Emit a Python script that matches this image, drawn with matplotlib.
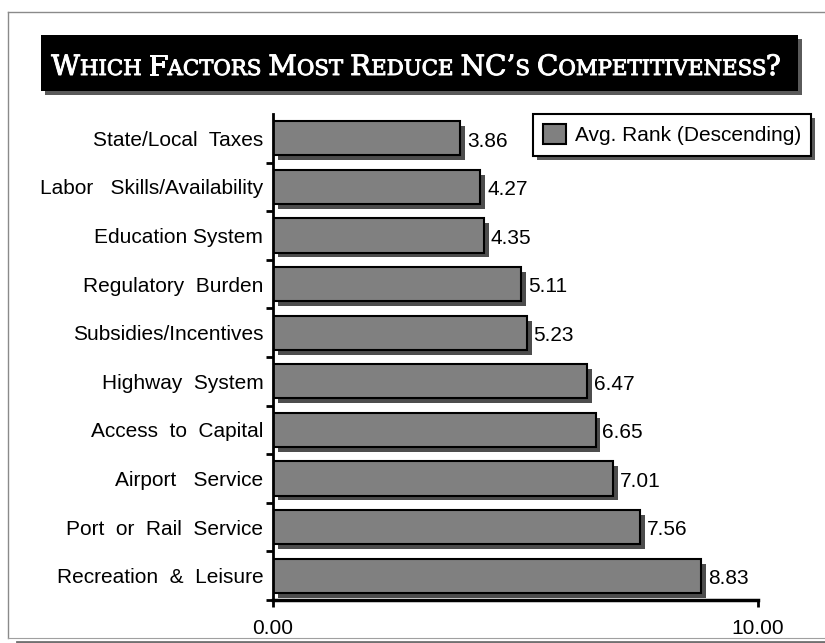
import matplotlib
matplotlib.use("Agg")
import matplotlib.pyplot as plt
import numpy as np
from matplotlib.patches import Rectangle, Patch
from matplotlib.lines import Line2D
from matplotlib.patheffects import SimplePatchShadow, Normal, withStroke
from matplotlib.ticker import FixedLocator

# ---- data ----
factors = [
    "State/Local  Taxes",
    "Labor   Skills/Availability",
    "Education System",
    "Regulatory  Burden",
    "Subsidies/Incentives",
    "Highway  System",
    "Access  to  Capital",
    "Airport   Service",
    "Port  or  Rail  Service",
    "Recreation  &  Leisure",
]
avg_rank = [3.86, 4.27, 4.35, 5.11, 5.23, 6.47, 6.65, 7.01, 7.56, 8.83]
x_ticks = [0, 10]
x_tick_labels = ["0.00", "10.00"]
series_name = "Avg. Rank (Descending)"
title = "Which Factors Most Reduce NC\u2019s Competitiveness?"

W, H = 825, 643
fig = plt.figure(figsize=(W / 100, H / 100), dpi=100)
fig.patch.set_facecolor("white")

def fx(px):
    return px / W

def fy(py):
    return 1 - py / H

SANS = "Liberation Sans"
SERIF = "DejaVu Serif"
FS = 15
BAR_GRAY = "#808080"
SHADOW = "#4d4d4d"

# ---- outer frame ----
frame_gray = "#8a8a8a"
fig.add_artist(Line2D([fx(8), fx(8)], [fy(12), fy(638)], color=frame_gray, lw=1.0, transform=fig.transFigure))
fig.add_artist(Line2D([fx(8), 1.0], [fy(12), fy(12)], color=frame_gray, lw=1.0, transform=fig.transFigure))
fig.add_artist(Line2D([fx(8), 1.0], [fy(638), fy(638)], color="#a0a0a0", lw=0.8, transform=fig.transFigure))
fig.add_artist(Line2D([fx(17), 1.0], [fy(641.5), fy(641.5)], color="#707070", lw=2.0, transform=fig.transFigure))

# ---- title banner ----
banner = Rectangle((fx(41), fy(91)), fx(798) - fx(41), fy(35) - fy(91),
                   transform=fig.transFigure, facecolor="black", edgecolor="none",
                   path_effects=[SimplePatchShadow(offset=(3, -3), shadow_rgbFace="#5a5a5a", alpha=1.0), Normal()])
fig.add_artist(banner)

def draw_small_caps(text, cx_px, base_px, big, small, family, target_width=None, **kw):
    """Draw text in small capitals: lowercase letters become smaller uppercase."""
    renderer = fig.canvas.get_renderer()
    words = text.split(" ")
    runs = []  # [string, is_small, ends_word]
    for w in words:
        cur, cur_small = "", None
        for ch in w:
            is_small = ch.islower()
            if cur_small is None or is_small == cur_small:
                cur += ch.upper() if is_small else ch
                cur_small = is_small
            else:
                runs.append([cur, cur_small, False])
                cur = ch.upper() if is_small else ch
                cur_small = is_small
        runs.append([cur, cur_small, True])

    def layout(scale):
        arts, wids = [], []
        for s, sm, _ in runs:
            t = fig.text(0, fy(base_px), s, fontsize=(small if sm else big) * scale,
                         family=family, color="white", ha="left", va="baseline", **kw)
            arts.append(t)
            wids.append(t.get_window_extent(renderer).width)
        gap = big * scale * 100 / 72 * 0.25
        return arts, wids, gap, sum(wids) + gap * (len(words) - 1)

    arts, wids, gap, total = layout(1.0)
    if target_width:
        for a in arts:
            a.remove()
        arts, wids, gap, total = layout(target_width / total)
    x = cx_px - total / 2
    for t, wdt, run in zip(arts, wids, runs):
        t.set_x(fx(x))
        x += wdt + (gap if run[2] else 0)

draw_small_caps(title, (50 + 782) / 2, 75, 20, 15.2, SERIF, target_width=730,
                path_effects=[withStroke(linewidth=0.7, foreground="white")])

# ---- bar chart ----
ax = fig.add_axes([fx(273), fy(600), fx(758) - fx(273), fy(114) - fy(600)])
ax.set_facecolor("none")
y = np.arange(len(factors))
bars = ax.barh(y, avg_rank, height=0.7, color=BAR_GRAY, edgecolor="black", linewidth=1.5, zorder=3)
for b in bars:
    b.set_path_effects([SimplePatchShadow(offset=(3.5, -3.5), shadow_rgbFace=SHADOW, alpha=1.0), Normal()])

for yi, v in zip(y, avg_rank):
    ax.annotate(f"{v:.2f}", xy=(v, yi), xytext=(5, -2), textcoords="offset points",
                ha="left", va="center", fontsize=FS, family=SANS, color="black")

ax.set_xlim(0, 10)
ax.set_ylim(len(factors) - 0.5, -0.5)
ax.set_yticks(y)
ax.set_yticklabels(factors, fontsize=FS, family=SANS)
ax.yaxis.set_minor_locator(FixedLocator(np.arange(0.5, len(factors), 1)))
ax.tick_params(axis="y", which="major", length=0, pad=7)
ax.tick_params(axis="y", which="minor", length=5, width=2, direction="out", color="black")

ax.set_xticks(x_ticks)
ax.set_xticklabels(x_tick_labels, fontsize=FS, family=SANS)
ax.tick_params(axis="x", which="major", length=5, width=2, direction="out", pad=9)

for side in ("top", "right"):
    ax.spines[side].set_visible(False)
ax.spines["left"].set_linewidth(2)
ax.spines["bottom"].set_linewidth(2.5)
ax.spines["left"].set_zorder(4)

# ---- legend ----
handle = Patch(facecolor=BAR_GRAY, edgecolor="black", linewidth=1.5)
leg = fig.legend([handle], [series_name], loc="upper left",
                 bbox_to_anchor=(fx(533), fy(114)), bbox_transform=fig.transFigure,
                 borderaxespad=0, fancybox=False, framealpha=1, edgecolor="black",
                 prop={"family": SANS, "size": FS}, handlelength=1.1, handleheight=1.1,
                 handletextpad=0.4, borderpad=0.5)
frame = leg.get_frame()
frame.set_linewidth(1.5)
frame.set_path_effects([SimplePatchShadow(offset=(3, -3), shadow_rgbFace="#5a5a5a", alpha=1.0), Normal()])

fig.savefig("out.png", dpi=100, facecolor="white")
